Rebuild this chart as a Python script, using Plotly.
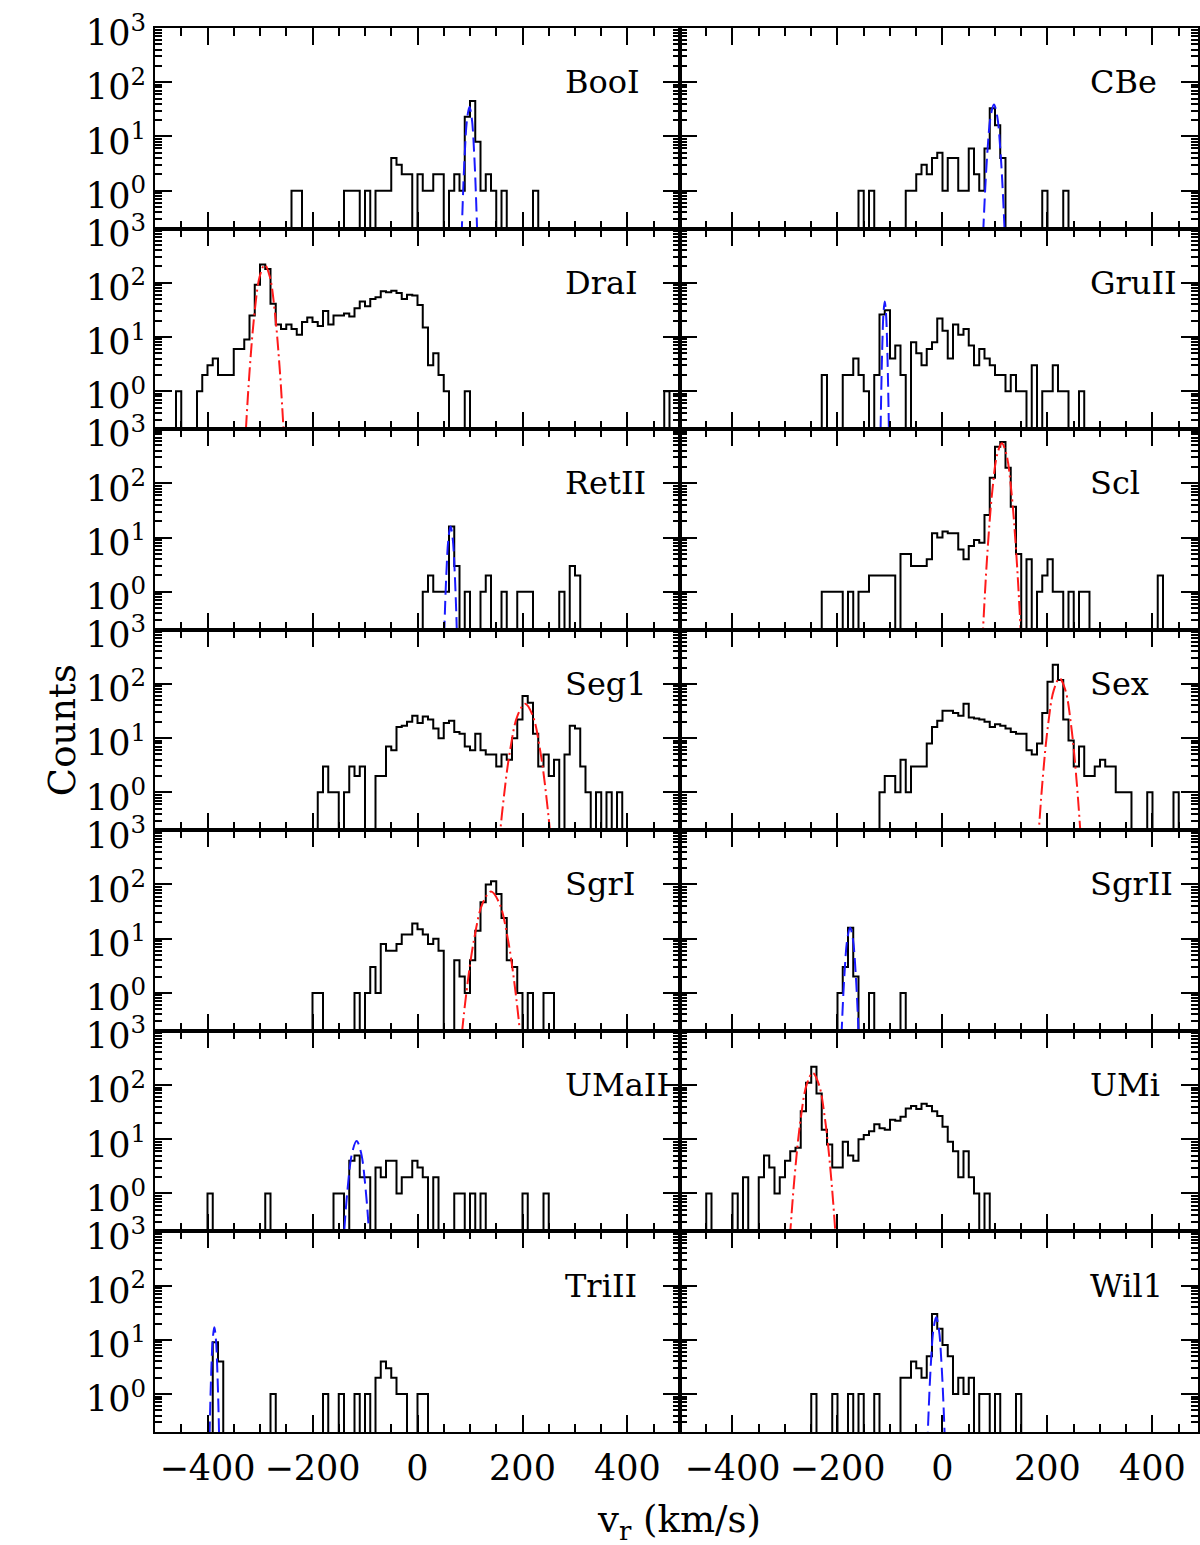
import plotly.graph_objects as go
from plotly.subplots import make_subplots

BIN = 10          # km/s bin width
FLOOR = 0.01      # empty bins drawn below the axis floor

# ---- histogram counts: left edge of first bin + counts per 10 km/s bin ----
BOOI_LO = -240
BOOI_N = [1, 1, 0, 0, 0, 0, 0, 0, 0, 0,
          1, 1, 1, 0, 1, 0, 1, 1, 1, 4,
          3, 2, 2, 0, 2, 1, 1, 2, 2, 0,
          1, 2, 1, 23, 45, 8, 1, 2, 1, 0,
          1, 0, 0, 0, 0, 0, 1]

CBE_LO = -160
CBE_N = [1, 0, 1, 0, 0, 0, 0, 0, 0, 1,
         1, 2, 3, 2, 4, 5, 1, 4, 4, 1,
         1, 6, 2, 1, 6, 33, 16, 4, 0, 0,
         0, 0, 0, 0, 0, 1, 0, 0, 0, 1]

DRAI_LO = -460
DRAI_N = [1, 0, 0, 0, 1, 2, 3, 4, 2, 2,
          2, 6, 6, 9, 25, 92, 218, 180, 41, 17,
          14, 17, 14, 11, 19, 23, 19, 16, 30, 17,
          25, 25, 27, 24, 34, 45, 37, 50, 54, 70,
          67, 71, 65, 50, 60, 58, 39, 15, 3, 5,
          2, 1, 0, 0, 0, 1, 0, 0, 0, 0,
          0, 0, 0, 0, 0, 0, 0, 0, 0, 0,
          0, 0, 0, 0, 0, 0, 0, 0, 0, 0,
          0, 0, 0, 0, 0, 0, 0, 0, 0, 0,
          0, 0, 0, 1]

GRUII_LO = -230
GRUII_N = [2, 0, 0, 0, 2, 2, 4, 2, 1, 0,
           2, 26, 31, 4, 7, 2, 0, 8, 5, 3,
           6, 8, 22, 13, 4, 17, 11, 14, 7, 3,
           6, 4, 3, 2, 2, 1, 2, 1, 1, 0,
           3, 0, 1, 1, 3, 1, 1, 0, 0, 1]

RETII_LO = 10
RETII_N = [1, 2, 1, 1, 1, 16, 3, 0, 1, 0,
           0, 1, 2, 0, 0, 1, 0, 0, 1, 1,
           1, 0, 0, 0, 0, 0, 1, 0, 3, 2]

SCL_LO = -230
SCL_N = [1, 1, 1, 1, 0, 1, 0, 1, 1, 2,
         2, 2, 2, 2, 0, 5, 5, 3, 3, 3,
         4, 12, 10, 13, 12, 12, 6, 4, 7, 9,
         8, 26, 127, 475, 580, 195, 37, 5, 0, 4,
         0, 1, 2, 4, 1, 1, 0, 1, 0, 1,
         1, 0, 0, 0, 0, 0, 0, 0, 0, 0,
         0, 0, 0, 0, 2]

SEG1_LO = -190
SEG1_N = [1, 3, 1, 1, 0, 1, 3, 2, 3, 0,
          0, 2, 2, 7, 6, 16, 17, 20, 26, 19,
          25, 22, 15, 10, 19, 21, 13, 12, 7, 6,
          12, 6, 5, 5, 3, 5, 4, 10, 22, 60,
          45, 12, 3, 5, 2, 4, 0, 5, 17, 15,
          3, 1, 0, 1, 0, 1, 0, 1]

SEX_LO = -120
SEX_N = [1, 2, 2, 1, 4, 1, 3, 3, 3, 8,
         16, 21, 32, 32, 29, 26, 43, 24, 23, 22,
         20, 16, 18, 17, 15, 13, 12, 12, 6, 5,
         8, 29, 110, 225, 118, 22, 9, 3, 7, 2,
         2, 3, 4, 3, 3, 1, 1, 1, 0, 0,
         0, 1, 0, 0, 0, 0, 1]

SGRI_LO = -200
SGRI_N = [1, 1, 0, 0, 0, 0, 0, 0, 1, 0,
          1, 3, 1, 8, 6, 6, 8, 12, 12, 19,
          15, 12, 8, 10, 6, 0, 0, 4, 2, 1,
          4, 14, 47, 100, 115, 67, 24, 4, 3, 1,
          0, 1, 0, 0, 1, 1]

SGRII_LO = -200
SGRII_N = [1, 3, 16, 2, 0, 0, 1, 0, 0, 0,
           0, 0, 1]

UMAII_LO = -400
UMAII_N = [1, 0, 0, 0, 0, 0, 0, 0, 0, 0,
           0, 1, 0, 0, 0, 0, 0, 0, 0, 0,
           0, 0, 0, 0, 1, 1, 0, 4, 5, 2,
           2, 0, 3, 2, 4, 4, 1, 2, 2, 4,
           3, 2, 0, 2, 0, 0, 0, 1, 1, 0,
           1, 0, 1, 0, 0, 0, 0, 0, 0, 0,
           1, 0, 0, 0, 1]

UMI_LO = -450
UMI_N = [1, 0, 0, 0, 0, 1, 0, 2, 0, 0,
         2, 5, 3, 1, 2, 4, 6, 7, 33, 110,
         218, 70, 15, 8, 3, 3, 9, 5, 4, 10,
         12, 14, 19, 16, 15, 23, 22, 26, 37, 41,
         36, 45, 41, 33, 27, 17, 9, 6, 2, 6,
         2, 1, 0, 1]

TRIII_LO = -390
TRIII_N = [9, 4, 0, 0, 0, 0, 0, 0, 0, 0,
           0, 1, 0, 0, 0, 0, 0, 0, 0, 0,
           0, 1, 0, 0, 1, 0, 0, 1, 0, 1,
           0, 2, 4, 3, 2, 1, 1, 0, 0, 1,
           1]

WIL1_LO = -250
WIL1_N = [1, 0, 0, 0, 1, 0, 0, 1, 0, 1,
          0, 0, 1, 0, 0, 0, 0, 2, 2, 4,
          3, 2, 5, 30, 16, 8, 5, 1, 2, 1,
          2, 0, 1, 1, 0, 1, 0, 0, 0, 1]

# ---- fitted member-velocity curves ----
BOOI_FIT_V = [81, 85.5, 90, 94.5, 99, 103.5, 108, 112.5, 117]
BOOI_FIT_N = [0.0117, 0.389, 4.74, 21.2, 35, 21.2, 4.74, 0.389, 0.0117]
CBE_FIT_V = [73.2, 79.4, 85.6, 91.8, 98, 104.2, 110.4, 116.6, 122.8]
CBE_FIT_N = [0.0131, 0.433, 5.28, 23.7, 39, 23.7, 5.28, 0.433, 0.0131]
DRAI_FIT_V = [-329.4, -319.8, -310.2, -300.6, -291, -281.4, -271.8, -262.2, -252.6]
DRAI_FIT_N = [0.072, 2.39, 29.1, 130.4, 215, 130.4, 29.1, 2.39, 0.072]
GRUII_FIT_V = [-119.6, -117.2, -114.8, -112.4, -110, -107.6, -105.2, -102.8, -100.4]
GRUII_FIT_N = [0.0151, 0.5, 6.09, 27.3, 45, 27.3, 6.09, 0.5, 0.0151]
RETII_FIT_V = [47, 51, 55, 59, 63, 67, 71, 75, 79]
RETII_FIT_N = [0.00536, 0.178, 2.16, 9.7, 16, 9.7, 2.16, 0.178, 0.00536]
SCL_FIT_V = [68, 77, 86, 95, 104, 113, 122, 131, 140, 149, 158]
SCL_FIT_N = [0.00205, 0.184, 6.11, 74.4, 333.6, 550, 333.6, 74.4, 6.11, 0.184, 0.00205]
SEG1_FIT_V = [147.4, 161.8, 176.2, 190.6, 205, 219.4, 233.8, 248.2, 262.6]
SEG1_FIT_N = [0.0144, 0.478, 5.82, 26.1, 43, 26.1, 5.82, 0.478, 0.0144]
SEX_FIT_V = [179, 190, 201, 212, 223, 234, 245, 256, 267]
SEX_FIT_N = [0.0425, 1.41, 17.2, 77.0, 127, 77.0, 17.2, 1.41, 0.0425]
SGRI_FIT_V = [76, 92, 108, 124, 140, 156, 172, 188, 204]
SGRI_FIT_N = [0.0248, 0.822, 10.0, 44.9, 74, 44.9, 10.0, 0.822, 0.0248]
SGRII_FIT_V = [-197.6, -192.2, -186.8, -181.4, -176, -170.6, -165.2, -159.8, -154.4]
SGRII_FIT_N = [0.00536, 0.178, 2.16, 9.7, 16, 9.7, 2.16, 0.178, 0.00536]
UMAII_FIT_V = [-150, -141.5, -133, -124.5, -116, -107.5, -99, -90.5, -82]
UMAII_FIT_N = [0.00312, 0.103, 1.26, 5.64, 9.3, 5.64, 1.26, 0.103, 0.00312]
UMI_FIT_V = [-293.8, -282.1, -270.4, -258.7, -247, -235.3, -223.6, -211.9, -200.2]
UMI_FIT_N = [0.0563, 1.87, 22.7, 101.9, 168, 101.9, 22.7, 1.87, 0.0563]
TRIII_FIT_V = [-399, -396, -393, -390, -387, -384, -381, -378, -375]
TRIII_FIT_N = [0.0057, 0.189, 2.3, 10.3, 17, 10.3, 2.3, 0.189, 0.0057]
WIL1_FIT_V = [-32.4, -27.3, -22.2, -17.1, -12, -6.9, -1.8, 3.3, 8.4]
WIL1_FIT_N = [0.0087, 0.289, 3.52, 15.8, 26, 15.8, 3.52, 0.289, 0.0087]

NAMES = ["BooI", "CBe", "DraI", "GruII", "RetII", "Scl", "Seg1", "Sex",
         "SgrI", "SgrII", "UMaII", "UMi", "TriII", "Wil1"]
FIT_KIND = ["blue", "blue", "red", "blue", "blue", "red", "red", "red",
            "red", "blue", "blue", "red", "blue", "blue"]

Y_TICKS = [1, 10, 100, 1000]
Y_TICKTEXT = ["10<sup>0</sup>", "10<sup>1</sup>", "10<sup>2</sup>", "10<sup>3</sup>"]
Y_MINOR = [0.3, 0.4, 0.5, 0.6, 0.7, 0.8, 0.9,
           2, 3, 4, 5, 6, 7, 8, 9,
           20, 30, 40, 50, 60, 70, 80, 90,
           200, 300, 400, 500, 600, 700, 800, 900]
X_TICKS = [-400, -200, 0, 200, 400]
X_TICKTEXT = ["\u2212400", "\u2212200", "0", "200", "400"]

HISTS = [(BOOI_LO, BOOI_N), (CBE_LO, CBE_N), (DRAI_LO, DRAI_N), (GRUII_LO, GRUII_N),
         (RETII_LO, RETII_N), (SCL_LO, SCL_N), (SEG1_LO, SEG1_N), (SEX_LO, SEX_N),
         (SGRI_LO, SGRI_N), (SGRII_LO, SGRII_N), (UMAII_LO, UMAII_N), (UMI_LO, UMI_N),
         (TRIII_LO, TRIII_N), (WIL1_LO, WIL1_N)]
FITS = [(BOOI_FIT_V, BOOI_FIT_N), (CBE_FIT_V, CBE_FIT_N), (DRAI_FIT_V, DRAI_FIT_N),
        (GRUII_FIT_V, GRUII_FIT_N), (RETII_FIT_V, RETII_FIT_N), (SCL_FIT_V, SCL_FIT_N),
        (SEG1_FIT_V, SEG1_FIT_N), (SEX_FIT_V, SEX_FIT_N), (SGRI_FIT_V, SGRI_FIT_N),
        (SGRII_FIT_V, SGRII_FIT_N), (UMAII_FIT_V, UMAII_FIT_N), (UMI_FIT_V, UMI_FIT_N),
        (TRIII_FIT_V, TRIII_FIT_N), (WIL1_FIT_V, WIL1_FIT_N)]

FONT = "DejaVu Serif"
FS_LABEL = 32
FS_TICK = 35
FS_TITLE = 37
W, H = 1200, 1545
ML, MR, MT, MB = 155, 0, 28, 113
PW = W - ML - MR
LEFT_W = 526
RIGHT_W = PW - LEFT_W
SCALE = LEFT_W / 1000.0

fig = make_subplots(rows=7, cols=2,
                    column_widths=[LEFT_W / PW, RIGHT_W / PW],
                    horizontal_spacing=0, vertical_spacing=0)

for i, name in enumerate(NAMES):
    r, c = i // 2 + 1, i % 2 + 1
    lo, counts = HISTS[i]
    xs, ys = [lo], [FLOOR]
    for j, n in enumerate(counts):
        xs.append(lo + j * BIN)
        ys.append(n if n > 0 else FLOOR)
    xs.append(lo + len(counts) * BIN)
    ys.append(FLOOR)
    fig.add_trace(go.Scatter(x=xs, y=ys, mode="lines",
                             line=dict(shape="hv", color="black", width=2),
                             showlegend=False, hoverinfo="skip"), row=r, col=c)
    fv, fn = FITS[i]
    if FIT_KIND[i] == "blue":
        ln = dict(color="#1a1aff", width=2, dash="14px,6px", shape="spline")
    else:
        ln = dict(color="#ff1a1a", width=2, dash="14px,4px,2px,4px", shape="spline")
    fig.add_trace(go.Scatter(x=fv, y=fn, mode="lines", line=ln,
                             showlegend=False, hoverinfo="skip"), row=r, col=c)
    k = i + 1
    xref = "x" if k == 1 else "x%d" % k
    yref = "y" if k == 1 else "y%d" % k
    fig.add_annotation(x=277, y=2, xref=xref, yref=yref, text=name,
                       showarrow=False, xanchor="left", yanchor="middle",
                       font=dict(family=FONT, size=FS_LABEL, color="black"))

for r in range(1, 8):
    for c in (1, 2):
        xr = [-500, 500] if c == 1 else [-500, -500 + RIGHT_W / SCALE]
        fig.update_xaxes(range=xr, showline=True, linecolor="black", linewidth=2,
                         mirror="ticks", ticks="inside", ticklen=17, tickwidth=2,
                         tickcolor="black", tickvals=X_TICKS, ticktext=X_TICKTEXT,
                         showticklabels=(r == 7), showgrid=False, zeroline=False,
                         ticklabelstandoff=4,
                         minor=dict(dtick=50, tick0=0, ticks="inside", ticklen=8,
                                    tickwidth=2, tickcolor="black", showgrid=False),
                         tickfont=dict(family=FONT, size=FS_TICK, color="black"),
                         row=r, col=c)
        fig.update_yaxes(type="log", range=[-0.7, 3], showline=True, linecolor="black",
                         linewidth=2, mirror="ticks", ticks="inside", ticklen=17,
                         tickwidth=2, tickcolor="black", tickvals=Y_TICKS,
                         ticktext=Y_TICKTEXT, showticklabels=(c == 1), showgrid=False,
                         zeroline=False, ticklabelshift=5,
                         minor=dict(tickvals=Y_MINOR, ticks="inside", ticklen=7,
                                    tickwidth=1.5, tickcolor="black", showgrid=False),
                         tickfont=dict(family=FONT, size=FS_TICK, color="black"),
                         row=r, col=c)

fig.add_annotation(x=(62 - ML) / PW, y=0.5, xref="paper", yref="paper",
                   text="Counts", textangle=-90, showarrow=False,
                   xanchor="center", yanchor="middle",
                   font=dict(family=FONT, size=FS_TITLE, color="black"))
fig.add_annotation(x=(680 - ML) / PW, y=(H - MB - 1522) / (H - MT - MB),
                   xref="paper", yref="paper",
                   text="v<sub>r</sub> (km/s)", showarrow=False,
                   xanchor="center", yanchor="middle",
                   font=dict(family=FONT, size=FS_TITLE, color="black"))

fig.update_layout(width=W, height=H, margin=dict(l=ML, r=MR, t=MT, b=MB),
                  plot_bgcolor="white", paper_bgcolor="white",
                  font=dict(family=FONT, size=FS_TICK, color="black"))

fig.write_html("out.html")
